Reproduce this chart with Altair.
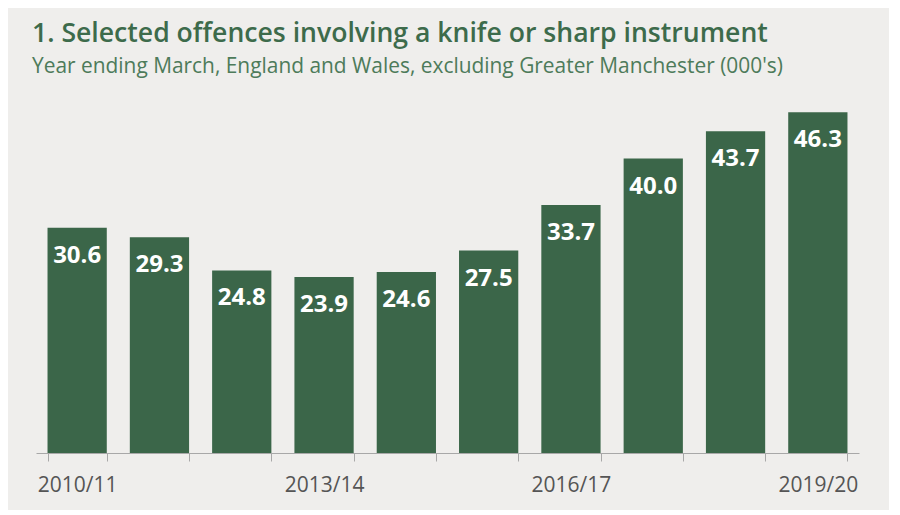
import altair as alt
import pandas as pd

years = ["2010/11", "2011/12", "2012/13", "2013/14", "2014/15",
         "2015/16", "2016/17", "2017/18", "2018/19", "2019/20"]
values = [30.6, 29.3, 24.8, 23.9, 24.6, 27.5, 33.7, 40.0, 43.7, 46.3]
shown_labels = ["2010/11", "2013/14", "2016/17", "2019/20"]

df = pd.DataFrame({"year": years, "value": values})
df["label"] = df["value"].map(lambda v: f"{v:.1f}")

BAR = "#3b6649"
BG = "#efeeec"

x = alt.X(
    "year:N",
    sort=years,
    title=None,
    scale=alt.Scale(paddingInner=0.28, paddingOuter=0.14),
    axis=alt.Axis(
        labelAngle=0,
        tickBand="extent",
        tickSize=8,
        tickColor="#a8a8a8",
        domainColor="#a8a8a8",
        labelColor="#555555",
        labelFont="Open Sans",
        labelFontSize=21,
        labelPadding=13,
        labelExpr="indexof(" + str(shown_labels) + ", datum.value) >= 0 ? datum.value : ''",
    ),
)
y = alt.Y("value:Q", title=None, scale=alt.Scale(domain=[0, 50], nice=False), axis=None)

bars = alt.Chart(df).mark_bar(color=BAR).encode(x=x, y=y)
labels = alt.Chart(df).mark_text(
    color="white", font="Open Sans", fontWeight="bold", fontSize=24,
    baseline="alphabetic", dy=35,
).encode(x=x, y=y, text="label:N")

chart = (
    alt.layer(bars, labels)
    .properties(
        width=823,
        height=368,
        autosize=alt.AutoSizeParams(type="none"),
        padding={"left": 28, "top": 77, "right": 30, "bottom": 57},
        background=BG,
        title=alt.TitleParams(
            text="1. Selected offences involving a knife or sharp instrument",
            subtitle="Year ending March, England and Wales, excluding Greater Manchester (000's)",
            anchor="start",
            frame="group",
            dx=-4,
            offset=8,
            font="Open Sans",
            fontSize=26.6,
            fontWeight=600,
            color="#3d6b4b",
            subtitleFont="Open Sans",
            subtitleFontSize=20.9,
            subtitleColor="#4d7b5a",
            subtitlePadding=9,
        ),
    )
    .configure_view(stroke=None)
)

chart.save("out.html", embed_options={"renderer": "svg", "actions": False})
